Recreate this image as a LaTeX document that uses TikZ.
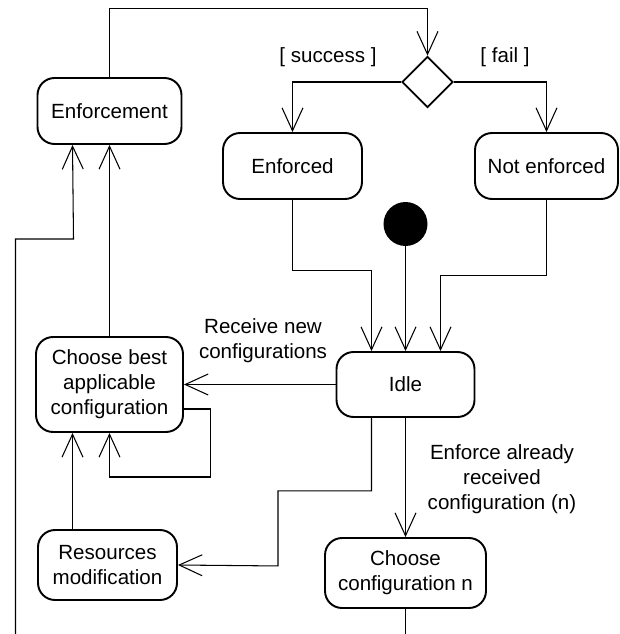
\documentclass[tikz,border=0pt]{standalone}
\usepackage{fontspec}
\setmainfont{Liberation Sans}
\usepackage{tikz}
\usetikzlibrary{positioning,arrows.meta,shapes.geometric,calc}
\tikzset{
  flowarrow/.style={-{Straight Barb[length=0.46cm, width=0.42cm]}, line width=0.6pt},
  actnode/.style={draw, rounded corners=0.34cm, line width=1.1pt, fill=white, minimum width=2.78cm, minimum height=1.32cm, align=center, inner sep=2pt},
  decnode/.style={draw, diamond, line width=1pt, fill=white, minimum size=1.02cm, inner sep=0pt},
  startnode/.style={circle, fill=black, minimum size=0.88cm, inner sep=0pt},
  relabel/.style={align=center, inner sep=1pt}
}

\begin{document}
\begin{tikzpicture}[x=0.02cm, y=-0.02cm, every node/.style={font={\fontsize{11.7}{14.2}\selectfont}}]
  \useasboundingbox (0,0) rectangle (619,634);
  % activities
  \node[actnode, minimum width=2.88cm] (enf) at (109.5,111) {Enforcement};
  \node[decnode] (dec) at (427.5,82) {};
  \node[actnode] (enfd) at (292.5,166) {Enforced};
  \node[actnode, minimum width=2.86cm] (notenf) at (546.5,166) {Not enforced};
  \node[startnode] (start) at (405.5,224) {};
  \node[actnode, minimum width=2.76cm, minimum height=1.3cm] (idle) at (405.5,384.5) {Idle};
  \node[actnode, minimum width=2.94cm, minimum height=1.9cm] (choose) at (109.5,384.5) {Choose best\\applicable\\configuration};
  \node[actnode, minimum height=1.4cm] (res) at (107.5,565) {Resources\\modification};
  \node[actnode, minimum width=3.22cm, minimum height=1.4cm] (cfg) at (405.5,573) {Choose\\configuration n};
  \coordinate (offpage) at (15.5,634);

  % guards and labels
  \node[relabel] (succ) at (328,57) {[ success ]};
  \node[relabel] (fail) at (505,57) {[ fail ]};
  \node[relabel] (recv) at (263,341) {Receive new\\configurations};
  \node[relabel] (already) at (502,479) {Enforce already\\received\\configuration (n)};

  % flows
  \draw[flowarrow] (enf.north) -- ++(0,-69) -| (dec.north);
  \draw[flowarrow] (dec.west) -| (enfd.north);
  \draw[flowarrow] (dec.east) -| (notenf.north);
  \draw[flowarrow] (enfd.south) -- ++(0,71) -| ($(idle.north)+(-34,0)$);
  \draw[flowarrow] (start.south) -- (idle.north);
  \draw[flowarrow] (notenf.south) -- ++(0,76) -| ($(idle.north)+(35,0)$);
  \draw[flowarrow] (idle.west) -- (choose.east);
  \draw[flowarrow] ($(choose.east)+(0,24.5)$) -| ++(26.5,68) -| (choose.south);
  \draw[flowarrow] ([xshift=-0.7cm]res.north) -- ([xshift=-0.7cm]res.north |- choose.south);
  \draw[flowarrow] ([xshift=-0.68cm]idle.south) -- ++(0,73) -| ++(-93.5,75) -- (res.east);
  \draw[flowarrow] (idle.south) -- (cfg.north);
  \draw[line width=0.6pt] (cfg.south) -- ++(0,26);
  \draw[flowarrow] (offpage) |- ++(58,-395) -- ([xshift=-0.74cm]enf.south);
  \draw[flowarrow] (choose.north) -- (choose.north |- enf.south);
\end{tikzpicture}
\end{document}
